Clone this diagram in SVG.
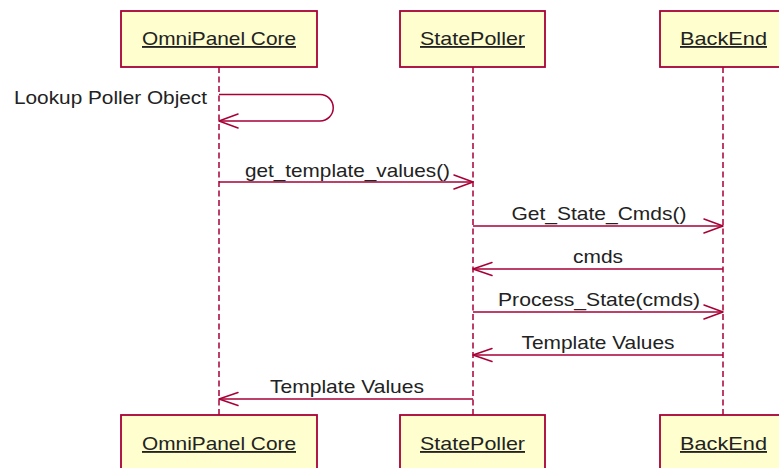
<svg xmlns="http://www.w3.org/2000/svg" width="779" height="468" viewBox="0 0 779 468">
  <style>
    .box { fill: #FEFECE; stroke: #A80036; stroke-width: 1.8; }
    .life { stroke: #A80036; stroke-width: 1.5; stroke-dasharray: 6 3.5; fill: none; }
    .msg { stroke: #A80036; stroke-width: 1.5; fill: none; }
    .head { stroke: #A80036; stroke-width: 1.5; fill: none; stroke-linecap: round; stroke-linejoin: round; }
    text { font-family: "Liberation Sans", Arial, sans-serif; font-size: 18.5px; fill: #222; }
    .pname { text-anchor: middle; text-decoration: underline; }
    .lbl { text-anchor: middle; }
  </style>
  <rect width="779" height="468" fill="#ffffff"/>

  <!-- lifelines -->
  <g id="lifelines">
    <line class="life" x1="219" y1="67" x2="219" y2="415"/>
    <line class="life" x1="473" y1="67" x2="473" y2="415"/>
    <line class="life" x1="723" y1="67" x2="723" y2="415"/>
  </g>

  <!-- participants (top) -->
  <g id="core-top">
    <rect class="box" x="121" y="11" width="196" height="56"/>
    <text class="pname" x="219" y="45" textLength="154" lengthAdjust="spacingAndGlyphs">OmniPanel Core</text>
  </g>
  <g id="poller-top">
    <rect class="box" x="400" y="11" width="145" height="56"/>
    <text class="pname" x="472.5" y="45" textLength="105" lengthAdjust="spacingAndGlyphs">StatePoller</text>
  </g>
  <g id="backend-top">
    <rect class="box" x="660" y="11" width="127" height="56"/>
    <text class="pname" x="723.5" y="45" textLength="87" lengthAdjust="spacingAndGlyphs">BackEnd</text>
  </g>

  <!-- participants (bottom) -->
  <g id="core-bottom">
    <rect class="box" x="121" y="415" width="196" height="56"/>
    <text class="pname" x="219" y="450" textLength="154" lengthAdjust="spacingAndGlyphs">OmniPanel Core</text>
  </g>
  <g id="poller-bottom">
    <rect class="box" x="400" y="415" width="145" height="56"/>
    <text class="pname" x="472.5" y="450" textLength="105" lengthAdjust="spacingAndGlyphs">StatePoller</text>
  </g>
  <g id="backend-bottom">
    <rect class="box" x="660" y="415" width="127" height="56"/>
    <text class="pname" x="723.5" y="450" textLength="87" lengthAdjust="spacingAndGlyphs">BackEnd</text>
  </g>

  <!-- messages -->
  <g id="connectors">
    <!-- self call on OmniPanel Core -->
    <path class="msg" d="M219,94.5 H320 A13.25,13.25 0 0 1 320,121 H219"/>
    <path class="head" d="M238,114 L219,121 L238,128"/>
    <text x="14" y="104" textLength="193" lengthAdjust="spacingAndGlyphs">Lookup Poller Object</text>

    <line class="msg" x1="219" y1="182" x2="473" y2="182"/>
    <path class="head" d="M454,175 L473,182 L454,189"/>
    <text class="lbl" x="347.5" y="177" textLength="205" lengthAdjust="spacingAndGlyphs">get_template_values()</text>

    <line class="msg" x1="473" y1="226" x2="723" y2="226"/>
    <path class="head" d="M704,219 L723,226 L704,233"/>
    <text class="lbl" x="599" y="220" textLength="175" lengthAdjust="spacingAndGlyphs">Get_State_Cmds()</text>

    <line class="msg" x1="723" y1="269" x2="473" y2="269"/>
    <path class="head" d="M492,262.5 L473,269 L492,275.5"/>
    <text class="lbl" x="598" y="263" textLength="50" lengthAdjust="spacingAndGlyphs">cmds</text>

    <line class="msg" x1="473" y1="312" x2="723" y2="312"/>
    <path class="head" d="M704,305 L723,312 L704,319"/>
    <text class="lbl" x="599" y="306" textLength="202" lengthAdjust="spacingAndGlyphs">Process_State(cmds)</text>

    <line class="msg" x1="723" y1="355" x2="473" y2="355"/>
    <path class="head" d="M492,348.5 L473,355 L492,361.5"/>
    <text class="lbl" x="598" y="349" textLength="153" lengthAdjust="spacingAndGlyphs">Template Values</text>

    <line class="msg" x1="473" y1="399" x2="219" y2="399"/>
    <path class="head" d="M238,392.5 L219,399 L238,405.5"/>
    <text class="lbl" x="347" y="393" textLength="154" lengthAdjust="spacingAndGlyphs">Template Values</text>
  </g>
</svg>
